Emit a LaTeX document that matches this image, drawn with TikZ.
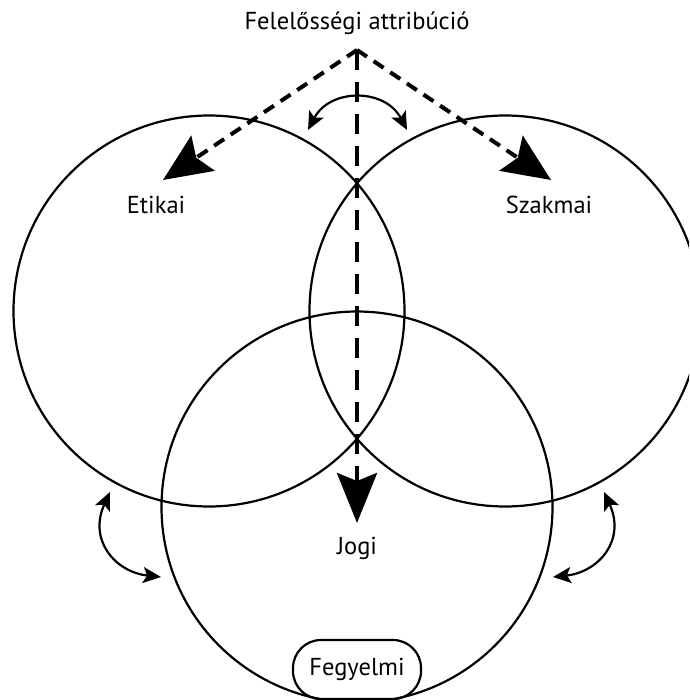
\documentclass[tikz,border=0pt]{standalone}
\usepackage{fontspec}
\setmainfont{PT Sans}
\usetikzlibrary{arrows.meta}
\begin{document}
\begin{tikzpicture}[x=1pt,y=-1pt,
  ring/.style={draw=black,line width=2.2pt},
  dashline/.style={line width=4pt,dash pattern=on 12pt off 8pt,-{Stealth[length=48pt,width=42pt,inset=8pt]}},
  vdash/.style={line width=4pt,dash pattern=on 20pt off 12pt,-{Stealth[length=50pt,width=40pt,inset=8pt]}},
  curvearrow/.style={line width=2.2pt,{Stealth[length=18pt,width=16pt,inset=4pt]}-{Stealth[length=18pt,width=16pt,inset=4pt]}},
  lbl/.style={font=\fontsize{24.5}{29}\selectfont,inner sep=0pt},
  pill/.style={draw=black,line width=2.2pt,rounded corners=28pt,minimum width=128pt,minimum height=59pt,inner sep=0pt,font=\fontsize{24.5}{29}\selectfont}
]
\useasboundingbox (0,0) rectangle (689,700);
\clip (0,0) rectangle (689,700);
\fill[white] (0,0) rectangle (689,700);
% circles
\draw[ring] (209,311) circle[radius=195.5];
\draw[ring] (505,311) circle[radius=195.5];
\draw[ring] (357,507) circle[radius=195.5];
% labels
\node[lbl] (title) at (357,23) {Felelősségi attribúció};
\node[lbl] (etikai) at (156,205) {Etikai};
\node[lbl] (szakmai) at (549,205) {Szakmai};
\node[lbl] (jogi) at (357,548) {Jogi};
\node[pill] (fegy) at (357,669.5) {Fegyelmi};
% dashed arrows
\coordinate (apex) at (357,50);
\coordinate (tl) at (163,180);
\coordinate (tr) at (551,180);
\coordinate (tb) at (357,523);
\draw[dashline] (apex) -- (tl);
\draw[dashline] (apex) -- (tr);
\draw[vdash] (apex) -- (tb);
% curved double arrows
\coordinate (a1) at (308,130);
\coordinate (a2) at (407,130);
\draw[curvearrow] (a1) .. controls (330,88) and (385,88) .. (a2);
\coordinate (b1) at (110,492);
\coordinate (b2) at (161,577);
\draw[curvearrow] (b1) .. controls (88,540) and (115,572) .. (b2);
\coordinate (c1) at (604,492);
\coordinate (c2) at (553,577);
\draw[curvearrow] (c1) .. controls (626,540) and (599,572) .. (c2);
\end{tikzpicture}
\end{document}
